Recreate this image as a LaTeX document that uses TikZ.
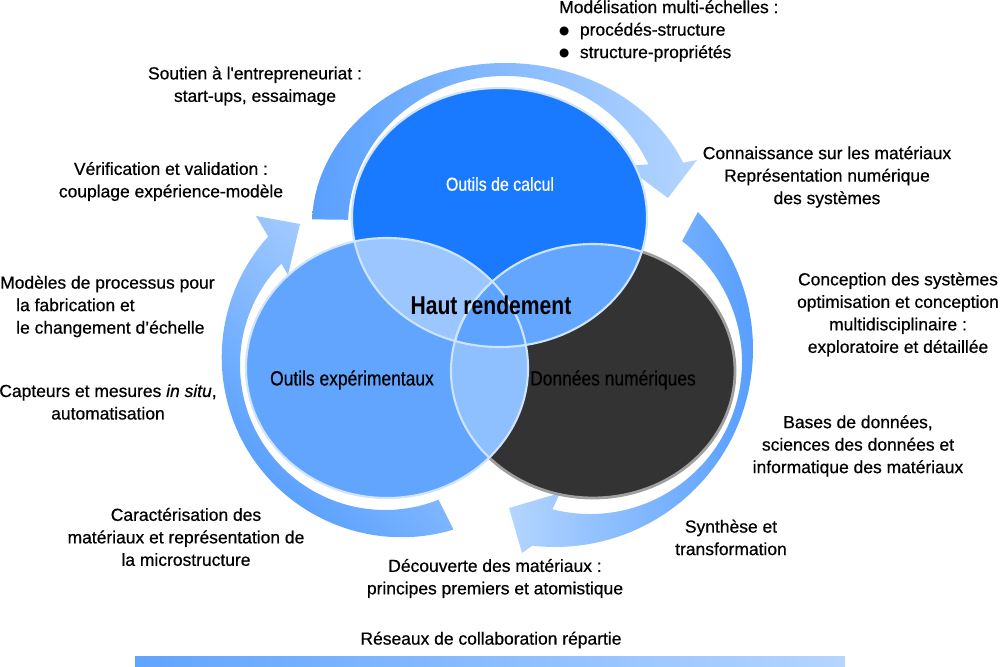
\documentclass[tikz,border=0pt]{standalone}
\usepackage{fontspec}
\setmainfont{Liberation Sans}[FakeBold=0.6]
\newfontfamily\narrowfont{Liberation Sans}[FakeStretch=0.85, FakeBold=0.6]
\newfontfamily\boldnarrow{Liberation Sans}[FakeStretch=0.82]
\newfontfamily\symfont{DejaVu Sans}
\usetikzlibrary{calc}

\definecolor{calcblue}{HTML}{1A7AFF}
\definecolor{expblue}{HTML}{62A5FF}
\definecolor{darkdisc}{HTML}{333333}
\definecolor{lensTL}{HTML}{9BC6FF}
\definecolor{lensTR}{HTML}{63A6FF}
\definecolor{lensLR}{HTML}{8EBFFF}
\definecolor{lensC}{HTML}{5EA3FF}
\definecolor{rimblue}{HTML}{CFE4FF}
\definecolor{arrowdeep}{HTML}{4F9AFF}
\definecolor{arrowpale}{HTML}{B4D5FF}

\def\calcdisc{(499.5,448.5) ellipse [x radius=147.5, y radius=129.5]}
\def\expdisc{(387,298) ellipse [x radius=141, y radius=130]}
\def\datadisc{(593,295) ellipse [x radius=142, y radius=127]}
\newcommand\blt{\raisebox{1.2pt}{\symfont\fontsize{10}{10}\selectfont ●}}

\begin{document}
\begin{tikzpicture}[x=0.3mm, y=0.3mm,
    lbl/.style={align=center, inner sep=0pt, font=\fontsize{14.9}{19.2}\selectfont},
    inlbl/.style={inner sep=0pt, font=\narrowfont\fontsize{17.5}{21}\selectfont},
    rim/.style={draw=rimblue, line width=1.8pt}]
    \useasboundingbox (0,0) rectangle (1000,666);

    % circular arrows
    \shade[left color=arrowdeep!90!arrowpale, right color=arrowpale]
        ($(505,441)+(178:193 and 162)$) arc[start angle=178, end angle=22.6, x radius=193, y radius=162]
        -- (697,506) -- (668,468) -- (625,500)
        -- ($(505,441)+(24:157 and 149)$) arc[start angle=24, end angle=178, x radius=157, y radius=149] -- cycle;
    \shade[left color=arrowpale, right color=arrowdeep]
        ($(555,317)+(43.8:198)$) arc[start angle=43.8, end angle=-96.6, radius=198]
        -- (522,113) -- (509,158) -- (560,173)
        -- ($(590,304)+(-104.3:152)$) arc[start angle=-104.3, end angle=52.7, radius=152] -- cycle;
    \shade[bottom color=arrowdeep, top color=arrowpale, shading angle=-45]
        ($(401.7,308.8)+(-73.3:180)$) arc[start angle=-73.3, end angle=-222.1, radius=180]
        -- (256,450) -- (300,442) -- (288,391)
        -- ($(385,301)+(-224.4:145)$) arc[start angle=-224.4, end angle=-68.3, radius=145] -- cycle;

    % venn
    \fill[darkdisc] \datadisc;
    \draw[gray!75, line width=2.4pt] \datadisc;
    \fill[expblue] \expdisc;
    \fill[calcblue] \calcdisc;
    \begin{scope}
        \clip \calcdisc;
        \fill[lensTL] \expdisc;
        \fill[lensTR] \datadisc;
    \end{scope}
    \begin{scope}
        \clip \expdisc;
        \fill[lensLR] \datadisc;
    \end{scope}
    \begin{scope}
        \clip \calcdisc;
        \clip \expdisc;
        \fill[lensC] \datadisc;
    \end{scope}
    \draw[rim] \expdisc;
    \draw[rim] \calcdisc;
    \begin{scope}
        \clip \calcdisc;
        \draw[rim] \datadisc;
    \end{scope}
    \begin{scope}
        \clip \expdisc;
        \draw[rim] \datadisc;
    \end{scope}

    \node[inlbl, text=white, font=\narrowfont\fontsize{16}{20}\selectfont] (calc) at (500,482) {Outils de calcul};
    \node[inlbl] (expe) at (352,286) {Outils expérimentaux};
    \node[inlbl] (donnees) at (613,286) {Données numériques};
    \node[inner sep=0pt, font=\boldnarrow\bfseries\fontsize{22}{26}\selectfont] (haut) at (491,361) {Haut rendement};

    % labels
    \node[lbl, align=left, anchor=west] (multi) at (559,635) {Modélisation multi-échelles :\\
        \blt\hspace{0.6em}procédés-structure\\ \blt\hspace{0.6em}structure-propriétés};
    \node[lbl] (soutien) at (255,580) {Soutien à l\textquotesingle entrepreneuriat :\\ start-ups, essaimage};
    \node[lbl] (verif) at (171,484.5) {Vérification et validation :\\ couplage expérience-modèle};
    \node[lbl] (connais) at (827,489) {Connaissance sur les matériaux\\ Représentation numérique\\ des systèmes};
    \node[lbl] (concep) at (898,351.5) {Conception des systèmes\\ optimisation et conception\\ multidisciplinaire :\\ exploratoire et détaillée};
    \node[lbl, align=left, anchor=west] (modeles) at (16,359.5) {\hspace*{-13.7pt}Modèles de processus pour\\ la fabrication et\\ le changement d’échelle};
    \node[lbl] (capteurs) at (108,264) {Capteurs et mesures \textit{in situ},\\ automatisation};
    \node[lbl] (bases) at (858,220) {Bases de données,\\ sciences des données et\\ informatique des matériaux};
    \node[lbl] (caract) at (186,129) {Caractérisation des\\ matériaux et représentation de\\ la microstructure};
    \node[lbl] (synth) at (731,128.5) {Synthèse et\\ transformation};
    \node[lbl] (decouv) at (495,87.5) {Découverte des matériaux :\\ principes premiers et atomistique};
    \node[lbl] (reseaux) at (491,26) {Réseaux de collaboration répartie};

    \shade[left color=expblue!95!arrowdeep, right color=arrowpale] (135,0) rectangle (845,10);
\end{tikzpicture}
\end{document}
